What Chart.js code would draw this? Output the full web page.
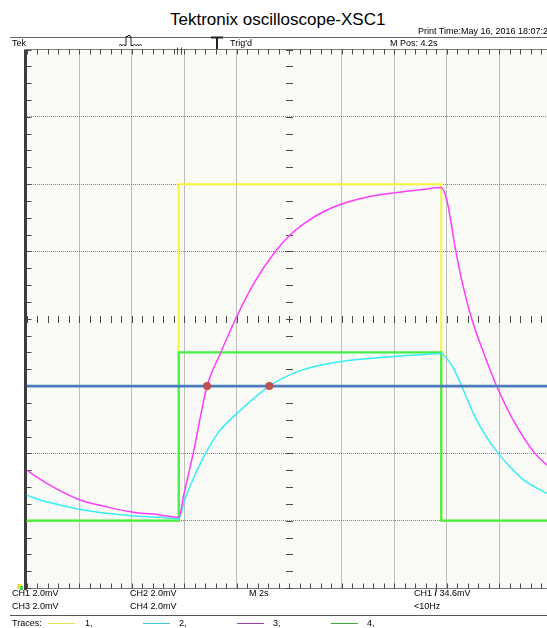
<!DOCTYPE html>
<html>
<head>
<meta charset="utf-8">
<script src="https://cdn.jsdelivr.net/npm/chart.js@4.4.1/dist/chart.umd.min.js"></script>
<style>
  html, body { margin: 0; padding: 0; background: #fff; overflow: hidden; width: 547px; height: 628px; }
  body { position: relative; font-family: "Liberation Sans", Arial, sans-serif; color: #000; }
  .t { position: absolute; white-space: nowrap; line-height: 1; }
  .s { font-size: 9px; }
  .hr { position: absolute; height: 1px; background: #555; }
  .key { position: absolute; height: 1px; width: 27px; top: 623px; }
  #scope { position: absolute; left: 0; top: 40px; }
</style>
</head>
<body>
<canvas id="scope" width="560" height="560"></canvas>

<div class="t" style="left:170px; top:10.5px; font-size:17px;">Tektronix oscilloscope-XSC1</div>
<div class="t" style="left:418px; top:26.5px; font-size:9px;">Print Time:May 16, 2016 18:07:22</div>
<div class="hr" style="left:10px; top:37px; width:537px; background:#666;"></div>

<div class="t s" style="left:12px; top:38.5px;">Tek</div>
<svg style="position:absolute; left:118px; top:34px;" width="28" height="14">
  <polyline fill="none" stroke="#222" stroke-width="1"
    points="1,11.5 2.5,10.5 4,11.5 5.5,10.5 7,11.5 8,11.5 8,2.5 10,2.5 10,1.5 12,1.5 12,2.5 13,2.5 13,11.5 15,11.5 16.5,10.5 18,11.5 19.5,10.5 21,11.5 22.5,10.5 24,11.5"/>
</svg>
<svg style="position:absolute; left:209px; top:35px;" width="16" height="15">
  <line x1="2" y1="2.5" x2="14" y2="2.5" stroke="#222" stroke-width="2"/>
  <line x1="8" y1="2" x2="8" y2="14" stroke="#222" stroke-width="2"/>
</svg>
<div class="t s" style="left:230px; top:38.5px;">Trig'd</div>
<div class="t s" style="left:390px; top:38.5px;">M Pos: 4.2s</div>

<div style="position:absolute; left:17px; top:584px; width:5px; height:5px; background:#e8e830;"></div>
<div style="position:absolute; left:20px; top:586px; width:3px; height:4px; background:#50d050;"></div>

<div class="t s" style="left:12px; top:589px;">CH1 2.0mV</div>
<div class="t s" style="left:130px; top:589px;">CH2 2.0mV</div>
<div class="t s" style="left:249px; top:589px;">M 2s</div>
<div class="t s" style="left:414px; top:589px;">CH1 <b>/</b> 34.6mV</div>
<div class="t s" style="left:12px; top:602px;">CH3 2.0mV</div>
<div class="t s" style="left:130px; top:602px;">CH4 2.0mV</div>
<div class="t s" style="left:414px; top:602px;">&lt;10Hz</div>
<div class="hr" style="left:10px; top:615px; width:537px;"></div>

<div class="t s" style="left:12px; top:619px;">Traces:</div>
<div class="key" style="left:48px; background:#e4e44a;"></div>
<div class="t s" style="left:85px; top:619px;">1,</div>
<div class="key" style="left:143px; background:#3cc8d2;"></div>
<div class="t s" style="left:179px; top:619px;">2,</div>
<div class="key" style="left:237px; background:#a63cb8;"></div>
<div class="t s" style="left:273px; top:619px;">3,</div>
<div class="key" style="left:331px; background:#3caa3c;"></div>
<div class="t s" style="left:367px; top:619px;">4,</div>

<script>
// Screen: 10 horizontal divisions at 2 s/div, 8 vertical divisions at 2 mV/div.
const timeRange = [0, 20];
const voltRange = [-8, 8];
const secPerDiv = 2;
const mvPerDiv = 2;

// CH1 (yellow) and CH4 (green): square-wave inputs.
const ch1Time = [0, 5.8, 5.8, 15.8, 15.8, 20];
const ch1Volt = [-6, -6, 4, 4, -6, -6];
const ch4Time = [0, 5.8, 5.8, 15.8, 15.8, 20];
const ch4Volt = [-6, -6, -1, -1, -6, -6];

// CH3 (magenta): RC response.
const ch3Time = [0, 0.77, 2.0, 3.06, 4.01, 5.09, 5.8, 6.0, 6.35, 6.88, 7.41, 7.97, 8.7, 9.47, 10.04, 10.67, 11.31, 12.01, 12.96, 14.0, 15.0, 15.8,
                 16.01, 16.36, 16.58, 16.96, 17.40, 17.91, 18.54, 19.37, 19.83];
const ch3Volt = [-4.5, -4.89, -5.37, -5.59, -5.74, -5.83, -5.9, -5.2, -4.0, -2.0, -0.99, 0.0, 1.1, 1.99, 2.49, 2.88, 3.18, 3.41, 3.61, 3.74, 3.83, 3.9,
                 3.53, 1.99, 1.15, 0.0, -0.98, -2.0, -3.01, -4.0, -4.35];

// CH2 (cyan): RC response.
const ch2Time = [0, 0.77, 2.0, 3.06, 4.01, 5.09, 5.8, 6.0, 6.19, 6.72, 7.31, 8.01, 9.25, 10.23, 10.86, 12.01, 14.0, 15.0, 15.8,
                 16.01, 16.2, 16.58, 16.82, 17.15, 17.54, 17.97, 18.42, 18.93, 19.83];
const ch2Volt = [-5.24, -5.44, -5.66, -5.78, -5.85, -5.90, -5.94, -5.45, -5.05, -4.15, -3.38, -2.82, -2.0, -1.6, -1.44, -1.27, -1.12, -1.07, -1.03,
                 -1.18, -1.38, -2.0, -2.45, -3.01, -3.53, -4.0, -4.4, -4.79, -5.19];

// Horizontal cursor and its crossings with CH3 and CH2.
const cursorTime = [0, 20];
const cursorVolt = [-2, -2];
const crossTime = [6.88, 9.25];
const crossVolt = [-2, -2];

const triggerTime = 5.8;

const pts = (xs, ys) => xs.map((x, i) => ({ x, y: ys[i] }));

// Graticule: plot background, edge frame, minor ticks on the edges and on the centre cross.
const graticule = {
  id: 'graticule',
  beforeDraw(chart) {
    const { ctx, chartArea: a } = chart;
    ctx.save();
    ctx.fillStyle = '#fafaf6';
    ctx.fillRect(a.left, a.top, a.right - a.left, a.bottom - a.top);
    ctx.restore();
  },
  beforeDatasetsDraw(chart) {
    const { ctx, chartArea: a, scales: { x, y } } = chart;
    const top = Math.floor(a.top) + 0.5;
    const bottom = Math.floor(a.bottom) + 0.5;
    const left = a.left;
    const cx = Math.round(x.getPixelForValue((timeRange[0] + timeRange[1]) / 2)) + 0.5;
    const cy = Math.round(y.getPixelForValue((voltRange[0] + voltRange[1]) / 2)) + 0.5;
    ctx.save();
    ctx.lineWidth = 1;
    ctx.strokeStyle = '#7a7a7a';
    ctx.beginPath();
    ctx.moveTo(left, top); ctx.lineTo(a.right, top);
    ctx.moveTo(left, bottom); ctx.lineTo(a.right, bottom);
    ctx.stroke();

    ctx.strokeStyle = '#4a4a4a';
    ctx.beginPath();
    const xStep = secPerDiv / 5;
    for (let k = 0; timeRange[0] + k * xStep <= timeRange[1] + 1e-9; k++) {
      const px = Math.round(x.getPixelForValue(timeRange[0] + k * xStep)) + 0.5;
      ctx.moveTo(px, top); ctx.lineTo(px, top + 5);
      ctx.moveTo(px, bottom); ctx.lineTo(px, bottom - 5);
      ctx.moveTo(px, cy - 3.5); ctx.lineTo(px, cy + 3.5);
    }
    const yStep = mvPerDiv / 4;
    for (let k = 0; voltRange[0] + k * yStep <= voltRange[1] + 1e-9; k++) {
      const py = Math.round(y.getPixelForValue(voltRange[0] + k * yStep)) + 0.5;
      ctx.moveTo(left, py); ctx.lineTo(left + 5, py);
      ctx.moveTo(cx - 3.5, py); ctx.lineTo(cx + 3.5, py);
    }
    // trigger position marker on the top edge
    const tx = Math.round(x.getPixelForValue(triggerTime)) + 0.5;
    ctx.moveTo(tx - 2, top - 2); ctx.lineTo(tx - 2, top + 5);
    ctx.moveTo(tx + 2, top - 2); ctx.lineTo(tx + 2, top + 5);
    ctx.stroke();

    // heavy left frame
    ctx.fillStyle = '#3c3c3c';
    ctx.fillRect(Math.round(left) - 3, a.top, 3, a.bottom - a.top + 2);
    ctx.restore();
  }
};

const gridColor = (ctx, centre) =>
  (Math.abs(ctx.tick.value - centre) < 1e-9) ? 'rgba(0,0,0,0)' : 'rgba(90,90,90,0.75)';

new Chart(document.getElementById('scope'), {
  type: 'line',
  data: {
    datasets: [
      { label: 'CH1', data: pts(ch1Time, ch1Volt), borderColor: '#f6f63a', borderWidth: 2, tension: 0, order: 5 },
      { label: 'CH2', data: pts(ch2Time, ch2Volt), borderColor: '#35eef6', borderWidth: 1.5, cubicInterpolationMode: 'monotone', order: 3 },
      { label: 'CH3', data: pts(ch3Time, ch3Volt), borderColor: '#ff3cff', borderWidth: 1.5, cubicInterpolationMode: 'monotone', order: 2 },
      { label: 'CH4', data: pts(ch4Time, ch4Volt), borderColor: '#44ee44', borderWidth: 2.2, tension: 0, order: 4 },
      { label: 'Cursor', data: pts(cursorTime, cursorVolt), borderColor: '#4a7dbd', borderWidth: 2.8, tension: 0, order: 1 },
      { label: 'Crossings', data: pts(crossTime, crossVolt), showLine: false, pointRadius: 4,
        pointBackgroundColor: '#c0504d', pointBorderColor: '#c0504d', pointBorderWidth: 0, order: 0 }
    ]
  },
  options: {
    responsive: false,
    animation: false,
    devicePixelRatio: 1,
    layout: { padding: { left: 26.5, right: 8.5, top: 9.5, bottom: 12 }, autoPadding: false },
    plugins: { legend: { display: false }, tooltip: { enabled: false }, title: { display: false } },
    elements: { point: { radius: 0, hoverRadius: 0 }, line: { fill: false, borderJoinStyle: 'miter' } },
    scales: {
      x: {
        type: 'linear', min: timeRange[0], max: timeRange[1],
        ticks: { display: false, stepSize: secPerDiv },
        grid: { drawTicks: false, lineWidth: 1, color: (c) => gridColor(c, (timeRange[0] + timeRange[1]) / 2) },
        border: { display: false, dash: [1, 1] }
      },
      y: {
        type: 'linear', min: voltRange[0], max: voltRange[1],
        ticks: { display: false, stepSize: mvPerDiv },
        grid: { drawTicks: false, lineWidth: 1, color: (c) => gridColor(c, (voltRange[0] + voltRange[1]) / 2) },
        border: { display: false, dash: [1, 1] }
      }
    }
  },
  plugins: [graticule]
});
</script>
</body>
</html>
